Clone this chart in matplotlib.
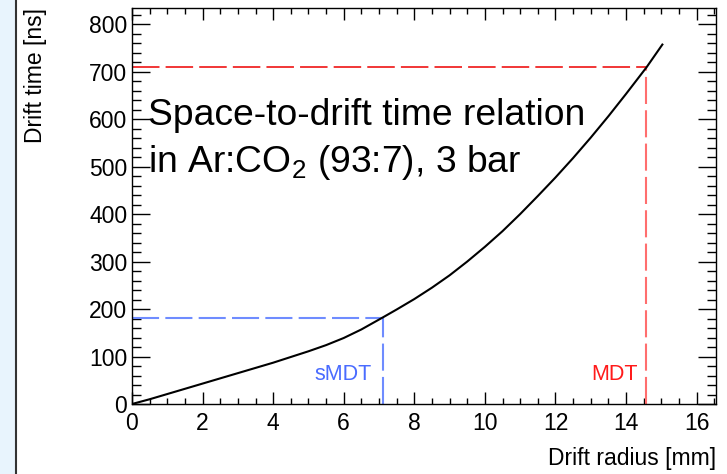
import matplotlib
matplotlib.use("Agg")
import matplotlib.pyplot as plt
from matplotlib.patches import Rectangle
from matplotlib.lines import Line2D
from matplotlib.ticker import MultipleLocator

plt.rcParams['font.family'] = ['Liberation Sans', 'DejaVu Sans']
plt.rcParams['mathtext.fontset'] = 'custom'
plt.rcParams['mathtext.rm'] = 'Liberation Sans'
plt.rcParams['mathtext.it'] = 'Liberation Sans:italic'

# Data
radius_mm = [0, 0.5, 1.0, 1.5, 2.0, 2.5, 3.0, 3.5, 4.0, 4.5, 5.0, 5.5, 6.0, 6.5,
             7.1, 7.5, 8.0, 8.5, 9.0, 9.5, 10.0, 10.5, 11.0, 11.5, 12.0, 12.5,
             13.0, 13.5, 14.0, 14.58, 15.03]
drift_ns = [0, 10, 21, 32, 43, 54, 65, 76, 87, 99, 111, 124, 139, 157,
            182, 199, 221, 245, 271, 300, 331, 364, 400, 438, 477, 518,
            561, 606, 653, 709, 757]
smdt_r, smdt_t = 7.1, 182
mdt_r, mdt_t = 14.58, 709

fig = plt.figure(figsize=(7.27, 4.74), dpi=100)
fig.patch.set_facecolor('white')
ax = fig.add_axes([132/727, 1-404/474, 584/727, 396/474])

# left side strip of the slide
fig.add_artist(Rectangle((0, 0), 15/727, 1, transform=fig.transFigure,
                         facecolor='#e8f4fd', edgecolor='none'))
fig.add_artist(Line2D([15.5/727, 15.5/727], [0, 1], transform=fig.transFigure,
                      color='#333333', lw=1.5))

ax.plot(radius_mm, drift_ns, color='black', lw=1.5, zorder=5)

lw = 1.5
ax.plot([0, smdt_r], [smdt_t, smdt_t], color='#6f8cff', lw=lw, dashes=(13, 3))
ax.plot([smdt_r, smdt_r], [0, smdt_t], color='#6f8cff', lw=lw, dashes=(13, 3))
ax.plot([0, mdt_r], [mdt_t, mdt_t], color='#ee0000', lw=1.1, dashes=(18, 4))
ax.plot([mdt_r, mdt_r], [0, mdt_t], color='#ff6e6e', lw=lw, dashes=(13, 3))

ax.text(6.79, 50, 'sMDT', color='#4a6cff', fontsize=15.5, ha='right', va='baseline')
ax.text(14.33, 50, 'MDT', color='#ff1a1a', fontsize=15.5, ha='right', va='baseline')

ax.text(0.45, 587, 'Space-to-drift time relation', fontsize=26.8, ha='left', va='baseline')
ax.text(0.45, 489, 'in Ar:CO$_2$ (93:7), 3 bar', fontsize=26.8, ha='left', va='baseline')

ax.set_xlim(0, 16.55)
ax.set_ylim(0, 834)
ax.xaxis.set_major_locator(MultipleLocator(2))
ax.xaxis.set_minor_locator(MultipleLocator(0.5))
ax.yaxis.set_major_locator(MultipleLocator(100))
ax.yaxis.set_minor_locator(MultipleLocator(20))

ax.tick_params(axis='both', which='both', direction='in', top=True, right=True,
               colors='black', labelsize=16.5)
ax.tick_params(axis='y', which='major', length=13, width=1, pad=3.5)
ax.tick_params(axis='y', which='minor', length=6.5, width=1)
ax.tick_params(axis='x', which='major', length=8.6, width=1, pad=6)
ax.tick_params(axis='x', which='minor', length=4.3, width=1)

for s in ax.spines.values():
    s.set_linewidth(1.0)
    s.set_color('black')

ax.set_xlabel('Drift radius [mm]', fontsize=16.5, loc='right')
ax.xaxis.set_label_coords(1.0, -0.108)
ax.set_ylabel('Drift time [ns]', fontsize=16.5, loc='top')
ax.yaxis.set_label_coords(-0.1455, 1.0)

fig.savefig('out.png', dpi=100)
